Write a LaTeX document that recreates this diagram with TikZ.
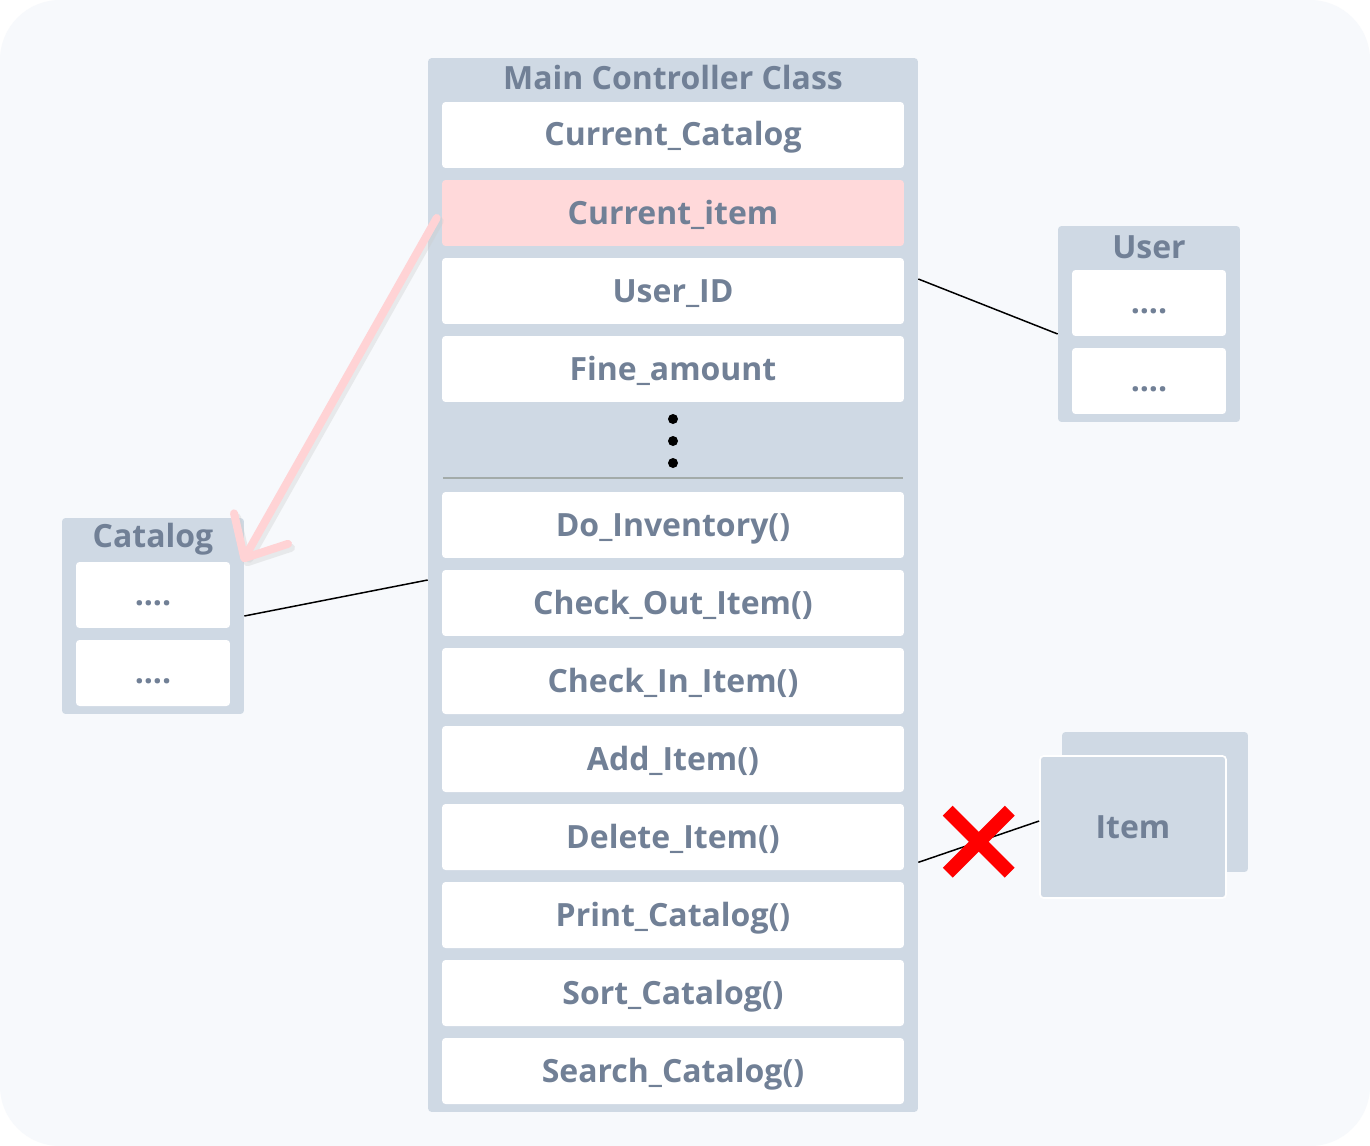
\documentclass[tikz,border=0pt]{standalone}
\usepackage{fontspec}
\setmainfont{Open Sans}
\usepackage{tikz}
\usetikzlibrary{arrows.meta,positioning,calc}
\definecolor{pagebg}{RGB}{247,249,252}
\definecolor{boxfill}{RGB}{207,217,228}
\definecolor{labelcolor}{RGB}{113,128,150}
\definecolor{hilite}{RGB}{255,217,218}
\definecolor{arrowpink}{RGB}{255,211,213}
\definecolor{sepcolor}{RGB}{163,171,169}

\begin{document}
\begin{tikzpicture}[x=0.02cm, y=-0.02cm,
    every node/.style={font=\fontsize{18.2}{21}\selectfont\bfseries, text=labelcolor},
    classbox/.style={fill=boxfill, rounded corners=2pt, inner sep=0pt},
    rowbox/.style={fill=white, rounded corners=2pt, inner sep=0pt,
      minimum width=9.24cm, minimum height=1.32cm, text height=0.44cm, text depth=0pt},
    smallbox/.style={fill=white, rounded corners=2pt, inner sep=0pt,
      minimum width=3.08cm, minimum height=1.32cm, text height=0.4cm, text depth=0pt},
    link/.style={draw=black, line width=0.85pt}]
    % Page
    \useasboundingbox (0,0) rectangle (1370,1146);
    \fill[white] (0,0) rectangle (1370,1146);
    \fill[pagebg, rounded corners=1.2cm] (0,0) rectangle (1370,1146);

    % Main class
    \node[classbox, minimum width=9.8cm, minimum height=21.08cm] (mainclass) at (673,585) {};
    \node (maintitle) at (673,78) {Main Controller Class};
    \node[rowbox] (ccatalog) at (673,135) {Current\_Catalog};
    \node[rowbox, fill=hilite] (citem) at (673,213) {Current\_item};
    \node[rowbox] (userid) at (673,291) {User\_ID};
    \node[rowbox] (fine) at (673,369) {Fine\_amount};
    % More fields
    \fill (673,419) circle (5);
    \fill (673,441) circle (5);
    \fill (673,463) circle (5);
    \draw[sepcolor, line width=1.2pt] (443,478) -- (903,478);
    % Methods
    \node[rowbox] (doinv) at (673,525) {Do\_Inventory()};
    \node[rowbox] (checkout) at (673,603) {Check\_Out\_Item()};
    \node[rowbox] (checkin) at (673,681) {Check\_In\_Item()};
    \node[rowbox] (additem) at (673,759) {Add\_Item()};
    \node[rowbox] (delitem) at (673,837) {Delete\_Item()};
    \node[rowbox] (printcat) at (673,915) {Print\_Catalog()};
    \node[rowbox] (sortcat) at (673,993) {Sort\_Catalog()};
    \node[rowbox] (searchcat) at (673,1071) {Search\_Catalog()};

    % User class
    \node[classbox, minimum width=3.64cm, minimum height=3.92cm] (user) at (1149,324) {};
    \node (usertitle) at (1149,247) {User};
    \node[smallbox] (usera) at (1149,303) {....};
    \node[smallbox] (userb) at (1149,381) {....};

    % Catalog class
    \node[classbox, minimum width=3.64cm, minimum height=3.92cm] (catalog) at (153,616) {};
    \node (catalogtitle) at (153,539) {Catalog};
    \node[smallbox] (cataloga) at (153,595) {....};
    \node[smallbox] (catalogb) at (153,673) {....};

    % Item objects
    \node[classbox, minimum width=3.72cm, minimum height=2.8cm] (itemback) at (1155,802) {};
    \node[classbox, draw=white, line width=1pt, minimum width=3.72cm, minimum height=2.84cm] (item) at (1133,827) {Item};

    % Links
    \draw[link] ($(userid.east -| mainclass.east)+(0,-12)$) -- ($(user.west)+(0,10)$);
    \draw[link] (catalog.east) -- ($(mainclass.west)+(0,-5)$);
    \draw[link] ($(delitem.south -| mainclass.east)+(0,-8)$) -- ($(item.west)+(0,-6)$)
      coordinate[midway] (cross);
    % Broken link
    \draw[red, line width=0.28cm] ($(cross)+(-31,-31)$) -- ($(cross)+(31,31)$);
    \draw[red, line width=0.28cm] ($(cross)+(-31,31)$) -- ($(cross)+(31,-31)$);

    % Current item points to catalog
    \coordinate (arrowtip) at ($(catalog.north east)+(-2,44)$);
    \draw[-{Straight Barb[length=0.68cm, width=1.24cm, round]}, line width=0.16cm,
      line cap=round, gray!40, opacity=0.35]
      ($(citem.west)+(-2,8)$) -- ($(arrowtip)+(3,4)$);
    \draw[-{Straight Barb[length=0.68cm, width=1.24cm, round]}, line width=0.16cm,
      line cap=round, arrowpink]
      ($(citem.west)+(-5,5)$) -- (arrowtip);
\end{tikzpicture}
\end{document}
